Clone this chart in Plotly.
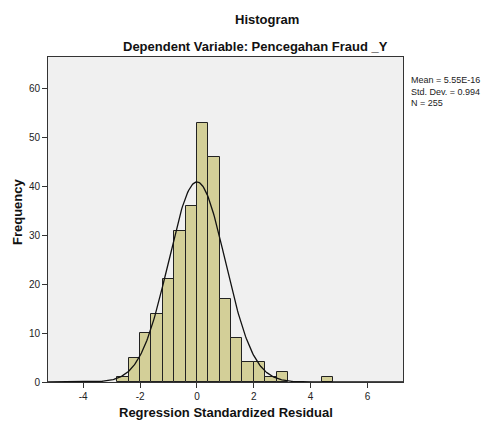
import numpy as np
import plotly.graph_objects as go

# Histogram bins (left edges, width 0.4) and frequencies
bin_left = [-2.8, -2.4, -2.0, -1.6, -1.2, -0.8, -0.4, 0.0, 0.4, 0.8, 1.2, 1.6, 2.0, 2.4, 2.8, 4.4]
counts = [1, 5, 10, 14, 21, 31, 36, 53, 46, 17, 9, 4, 4, 1, 2, 1]
bin_width = 0.4

mean_val = 5.55e-16
std_val = 0.994
n_val = 255

x_ticks = [-4, -2, 0, 2, 4, 6]
y_ticks = [0, 10, 20, 30, 40, 50, 60]

centers = [b + bin_width / 2 for b in bin_left]

# Normal curve fitted by SPSS (scaled to counts)
xs = np.linspace(-5.24, 7.25, 400)
ys = n_val * bin_width / (std_val * np.sqrt(2 * np.pi)) * np.exp(-0.5 * ((xs - mean_val) / std_val) ** 2)

fig = go.Figure()
fig.add_trace(go.Bar(
    x=centers, y=counts, width=bin_width,
    marker=dict(color="#D3CF98", line=dict(color="#222222", width=1)),
    hoverinfo="x+y",
))
fig.add_trace(go.Scatter(
    x=xs, y=ys, mode="lines",
    line=dict(color="#111111", width=1.3),
    hoverinfo="skip",
))

font_family = "Liberation Sans, Arial, sans-serif"
L, R, T, B = 48, 81, 57, 42
PW, PH = 484 - L - R, 424 - T - B


def px(xp):
    return (xp - L) / PW


def py(yp):
    return (424 - B - yp) / PH


fig.update_layout(
    width=484, height=424,
    margin=dict(l=L, r=R, t=T, b=B),
    paper_bgcolor="white",
    plot_bgcolor="#F0F0F0",
    showlegend=False,
    bargap=0,
    font=dict(family=font_family, size=10, color="#222222"),
    xaxis=dict(
        range=[-5.24, 7.25], tickvals=x_ticks, ticktext=[str(v) for v in x_ticks],
        showgrid=False, zeroline=False, automargin=False,
        showline=True, linecolor="#333333", linewidth=1, mirror=True,
        ticks="outside", ticklen=5, tickcolor="#333333",
        tickfont=dict(size=10, color="#222222"),
    ),
    yaxis=dict(
        range=[0, 66.5], tickvals=y_ticks, ticktext=[str(v) for v in y_ticks],
        showgrid=False, zeroline=False, automargin=False,
        showline=True, linecolor="#333333", linewidth=1, mirror=True,
        ticks="outside", ticklen=5, tickcolor="#333333",
        tickfont=dict(size=10, color="#222222"),
    ),
    annotations=[
        dict(text="<b>Histogram</b>", x=px(267), y=py(19),
             xref="paper", yref="paper", xanchor="center", yanchor="middle",
             showarrow=False, font=dict(size=13, color="#111111")),
        dict(text="<b>Dependent Variable: Pencegahan Fraud _Y</b>", x=px(255), y=py(46),
             xref="paper", yref="paper", xanchor="center", yanchor="middle",
             showarrow=False, font=dict(size=13, color="#111111")),
        dict(text="<b>Regression Standardized Residual</b>", x=px(226), y=py(412),
             xref="paper", yref="paper", xanchor="center", yanchor="middle",
             showarrow=False, font=dict(size=13, color="#111111")),
        dict(text="<b>Frequency</b>", x=px(17), y=py(212), textangle=-90,
             xref="paper", yref="paper", xanchor="center", yanchor="middle",
             showarrow=False, font=dict(size=13, color="#111111")),
        dict(text="Mean = 5.55E-16<br>Std. Dev. = 0.994<br>N = 255",
             x=px(409), y=py(73),
             xref="paper", yref="paper", xanchor="left", yanchor="top", align="left",
             showarrow=False, font=dict(size=9, color="#222222")),
    ],
)

fig.write_html("out.html", config={"displayModeBar": False},
               post_script="document.body.style.margin='0';document.body.style.overflow='hidden';")
